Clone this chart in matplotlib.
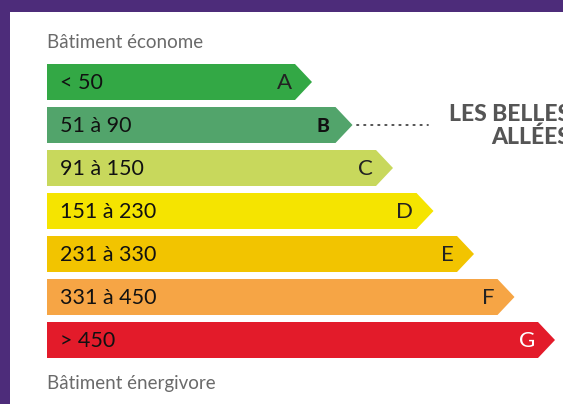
import numpy as np
import matplotlib
matplotlib.use("Agg")
import matplotlib.pyplot as plt
from matplotlib.patches import Polygon, Rectangle

# energy classes
letters = ["A", "B", "C", "D", "E", "F", "G"]
ranges = ["< 50", "51 à 90", "91 à 150", "151 à 230", "231 à 330", "331 à 450", "> 450"]
colors = ["#33a845", "#52a46b", "#c8d85c", "#f5e400", "#f2c400", "#f6a545", "#e31b2a"]
letter_colors = ["#222222"] * 6 + ["white"]
current = "B"
top_label = "Bâtiment économe"
bottom_label = "Bâtiment énergivore"
building = "LES BELLES\nALLÉES"

purple = "#4d2c7a"
W, H = 563, 404

fig = plt.figure(figsize=(W / 100, H / 100), dpi=100)
ax = fig.add_axes([0, 0, 1, 1])
ax.set_xlim(0, W)
ax.set_ylim(H, 0)
ax.axis("off")
fig.patch.set_facecolor("white")

# purple frame
ax.add_patch(Rectangle((0, 0), W, 12, color=purple, lw=0))
ax.add_patch(Rectangle((0, 0), 10, H, color=purple, lw=0))

x0 = 47
bar_h = 36
step = 43
y_first = 64
len0 = 248   # rectangle length of class A
grow = 40.5
tip = 17

for i, (let, rng, col) in enumerate(zip(letters, ranges, colors)):
    top = y_first + i * step
    mid = top + bar_h / 2
    xr = x0 + len0 + i * grow
    pts = [(x0, top), (xr, top), (xr + tip, mid), (xr, top + bar_h), (x0, top + bar_h)]
    ax.add_patch(Polygon(pts, closed=True, facecolor=col, edgecolor="none"))
    ax.text(x0 + 13, mid + 1, rng, fontsize=15.5, family="Lato", color="#111111",
            ha="left", va="center")
    if let == current:
        ax.text(xr - 6, mid + 1, let, fontsize=14, family="Lato", fontweight="black",
                color="#111111", ha="right", va="center")
        ax.plot([xr + tip + 4, 428], [mid, mid], ls=(0, (0.8, 3.1)), lw=1.3,
                color="#444444", solid_capstyle="round", dash_capstyle="round")
        ax.text(570, mid + 1, building, fontsize=16.5, family="Lato", fontweight="black",
                color="#555555", ha="right", va="center", linespacing=1.1)
    else:
        ax.text(xr - 3, mid + 1, let, fontsize=16, family="Lato", fontweight="normal",
                color=letter_colors[i], ha="right", va="center")

ax.text(x0, 43, top_label, fontsize=13.5, family="Lato", color="#6a6a6a",
        ha="left", va="center")
ax.text(x0, 383, bottom_label, fontsize=13.5, family="Lato", color="#6a6a6a",
        ha="left", va="center")

fig.savefig("out.png", dpi=100)
